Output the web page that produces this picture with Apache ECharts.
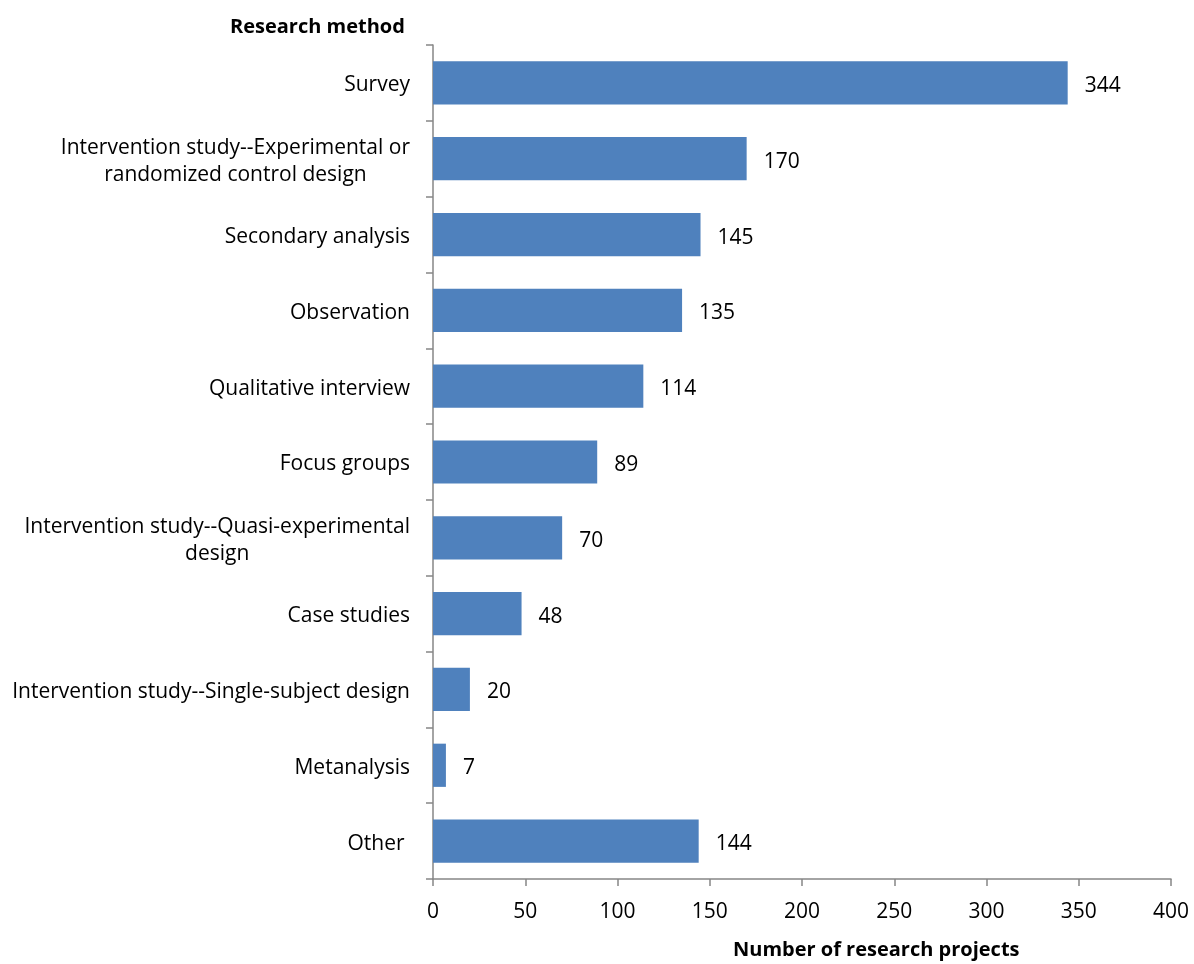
<!DOCTYPE html>
<html><head><meta charset="utf-8">
<script src="https://cdn.jsdelivr.net/npm/echarts@6/dist/echarts.min.js"></script>
<style>html,body{margin:0;padding:0;background:#fff}#c{width:1194px;height:964px}</style>
</head><body><div id="c"></div>
<script>
const categories = [
  "Survey",
  "Intervention study--Experimental or\nrandomized control design",
  "Secondary analysis",
  "Observation",
  "Qualitative interview",
  "Focus groups",
  "Intervention study--Quasi-experimental\ndesign",
  "Case studies",
  "Intervention study--Single-subject design",
  "Metanalysis",
  "Other "
];
const values = [344, 170, 145, 135, 114, 89, 70, 48, 20, 7, 144];
const xTicks = [0, 50, 100, 150, 200, 250, 300, 350, 400];

const FONT = "Open Sans";
const FS = 21;
const chart = echarts.init(document.getElementById('c'));
chart.setOption({
  animation: false,
  textStyle: {fontFamily: FONT},
  title: {
    text: "Research method", left: 225, top: 12,
    textStyle: {fontFamily: FONT, fontWeight: 'bold', fontSize: 20, color: '#000'}
  },
  graphic: [{
    type: 'text', left: 733, top: 940,
    style: {text: "Number of research projects", fontFamily: FONT, fontWeight: 'bold', fontSize: 20, fill: '#000'}
  }],
  grid: {left: 433, right: 23, top: 45, bottom: 85, containLabel: false},
  xAxis: {
    type: 'value', min: xTicks[0], max: xTicks[xTicks.length-1], interval: 50,
    splitLine: {show: false},
    axisLine: {show: true, lineStyle: {color: '#868686', width: 1.5}},
    axisTick: {show: true, length: 7, lineStyle: {color: '#868686', width: 1.5}},
    axisLabel: {color: '#000', fontSize: FS, fontFamily: FONT, margin: 23}
  },
  yAxis: {
    type: 'category', data: categories, inverse: true,
    axisLine: {show: true, lineStyle: {color: '#868686', width: 1.5}},
    axisTick: {show: true, length: 7, lineStyle: {color: '#868686', width: 1.5}},
    axisLabel: {
      color: '#000', fontSize: FS, fontFamily: FONT, margin: 23, align: 'right',
      lineHeight: 27, padding: [5, 0, 0, 0],
      formatter: v => v.split('\n').map(l => '{c|' + l + '}').join('\n'),
      rich: {c: {align: 'center', fontSize: FS, fontFamily: FONT, color: '#000', lineHeight: 27}}
    }
  },
  series: [{
    type: 'bar', data: values, barWidth: '57%',
    itemStyle: {color: '#4F81BD'},
    label: {show: true, position: 'right', distance: 17, offset: [0, 3], color: '#000', fontSize: FS, fontFamily: FONT}
  }]
});
</script></body></html>
